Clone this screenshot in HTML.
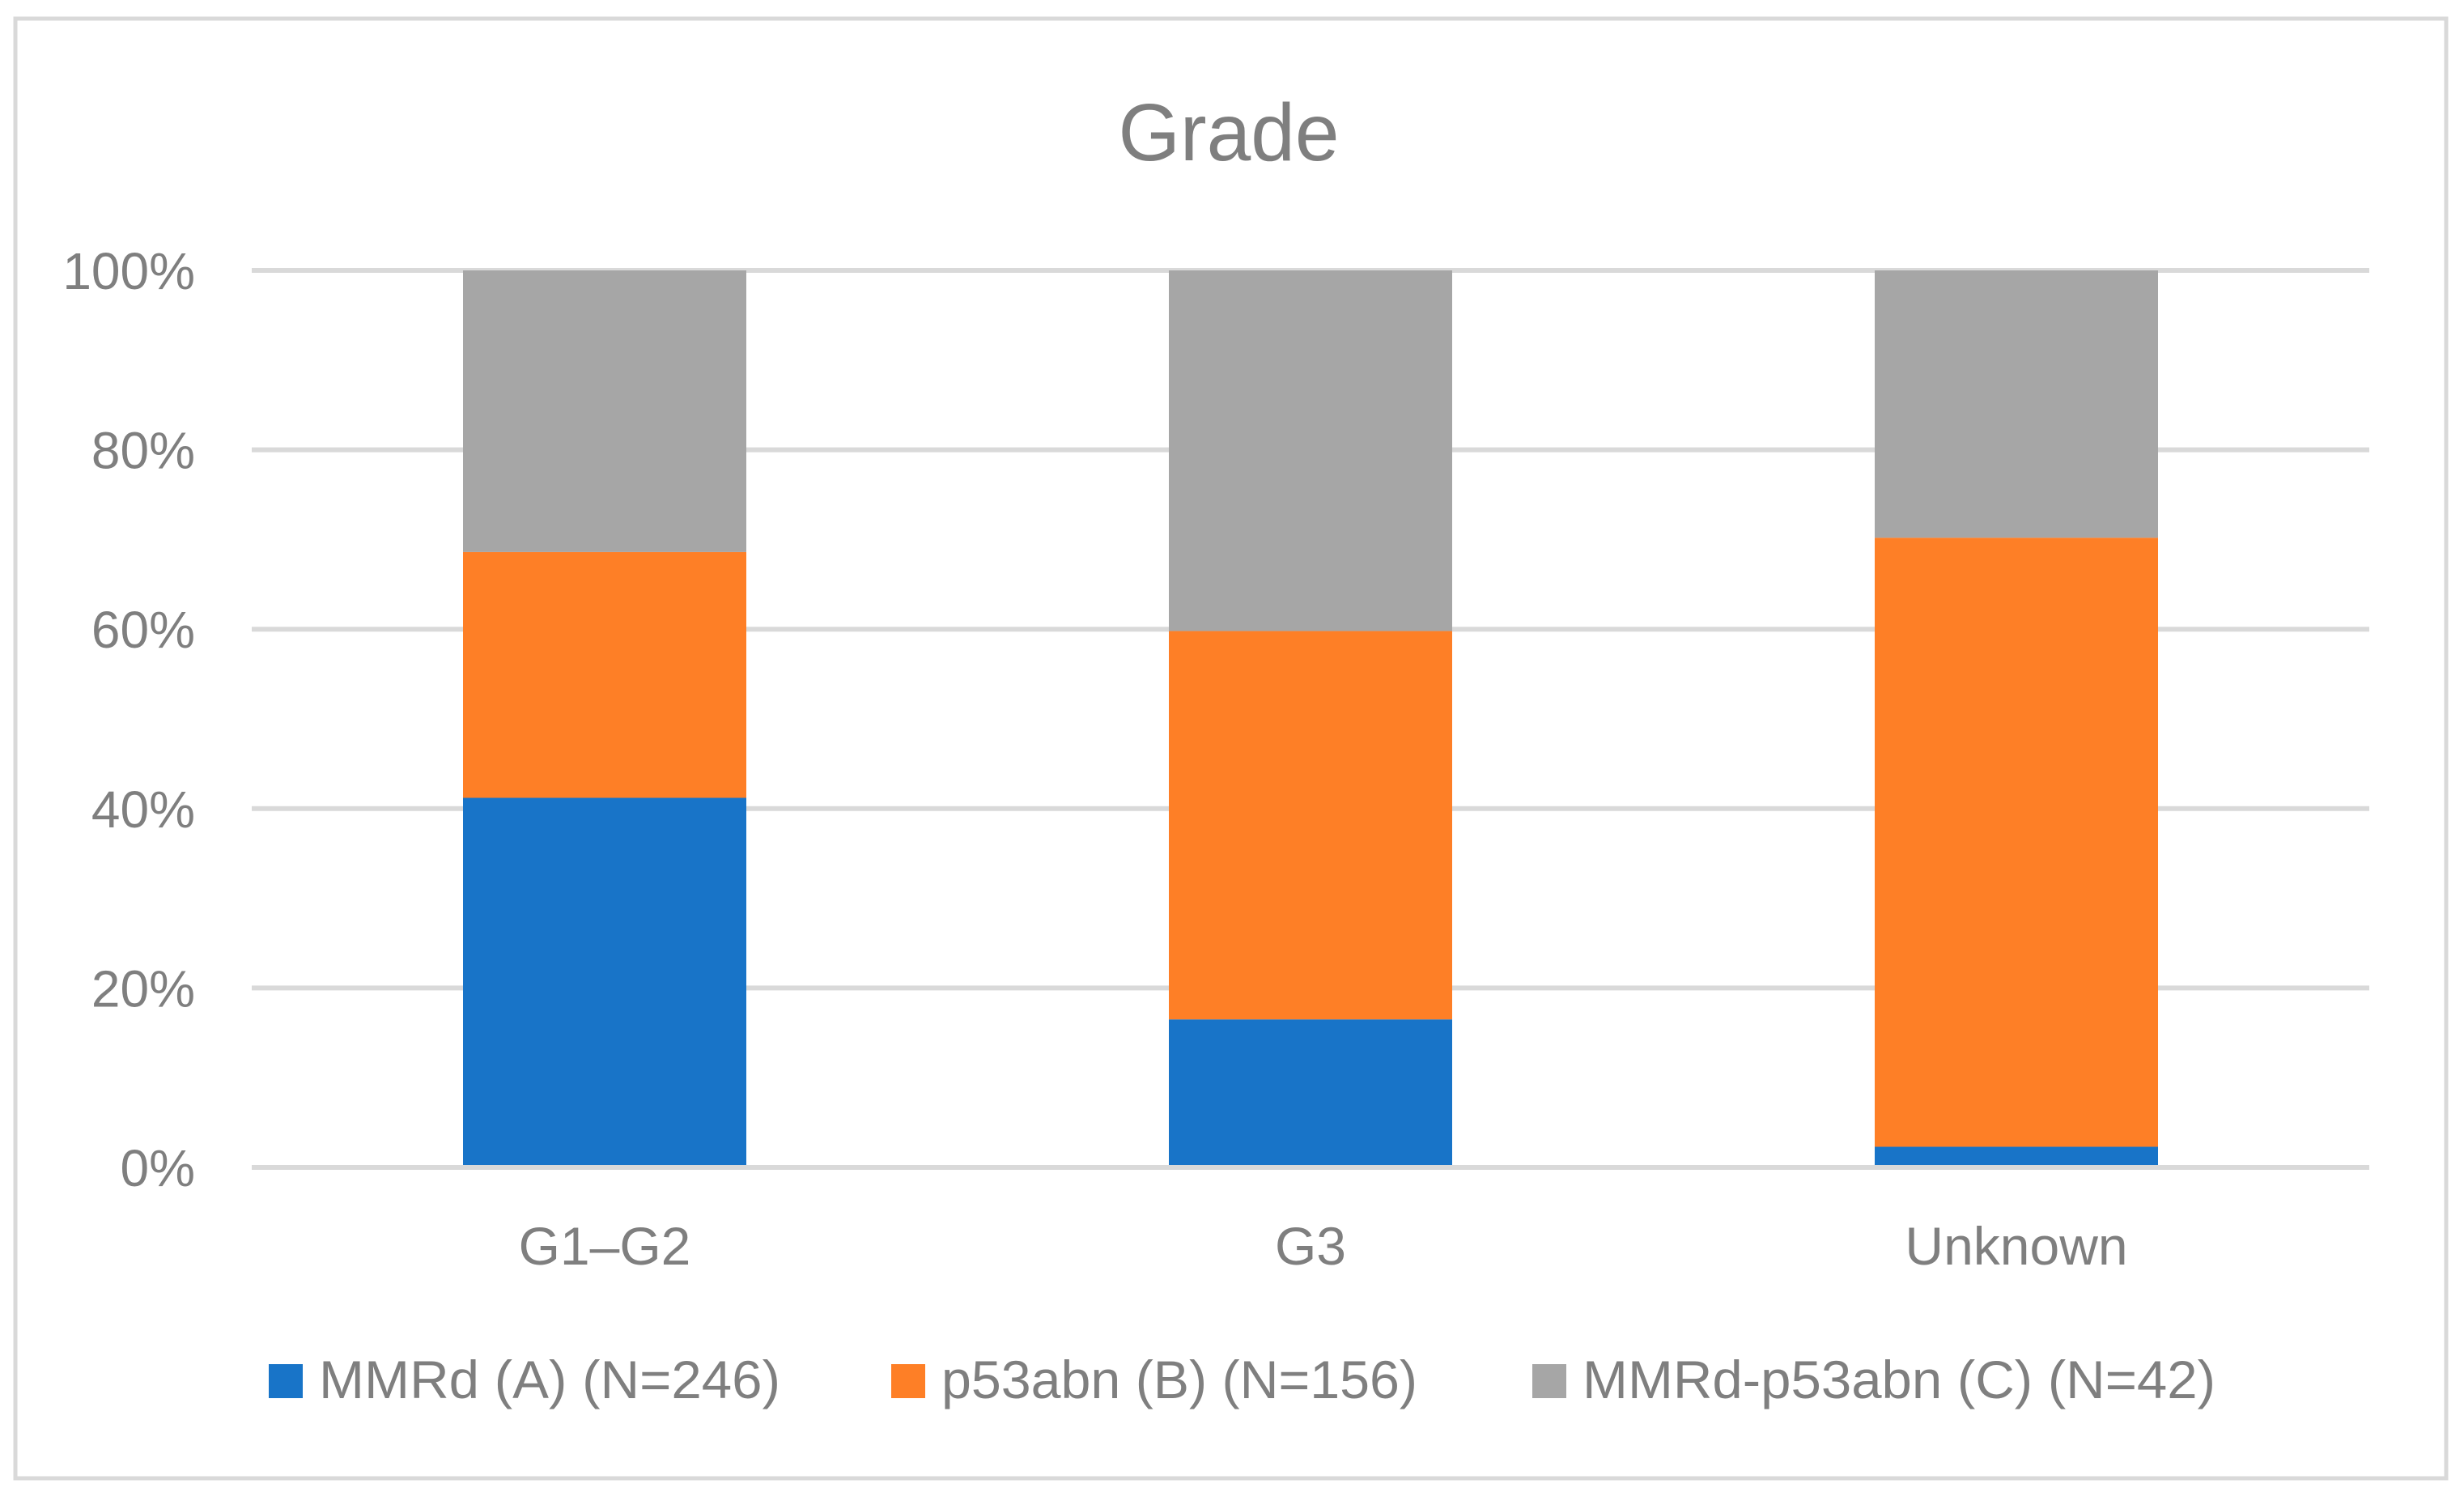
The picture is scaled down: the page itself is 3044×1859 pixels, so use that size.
<!DOCTYPE html>
<html><head><meta charset="utf-8"><style>
html,body{margin:0;padding:0;background:#fff;}
svg{display:block;}
text{font-family:"Liberation Sans",sans-serif;fill:#7f7f7f;}
</style></head><body>
<svg id="chart" width="3044" height="1859" viewBox="0 0 3044 1859" xmlns="http://www.w3.org/2000/svg">
<rect x="19" y="23" width="3003" height="1803" fill="#fff" stroke="#d9d9d9" stroke-width="5"/>
<text x="1518" y="198" font-size="100" text-anchor="middle" textLength="273" lengthAdjust="spacingAndGlyphs">Grade</text>
<g id="grid"></g>
<g id="bars"></g>
<g id="labels"></g>
<g id="legend"></g>
</svg>
<script>
const categories = ["G1\u2013G2", "G3", "Unknown"];
const mmrd = [41.2, 16.5, 2.3];
const p53abn = [27.4, 43.3, 67.9];
const mmrdP53 = [31.4, 40.2, 29.8];
const tickValues = [0, 20, 40, 60, 80, 100];
const tickLabels = ["0%", "20%", "40%", "60%", "80%", "100%"];
const seriesNames = ["MMRd (A) (N=246)", "p53abn (B) (N=156)", "MMRd-p53abn (C) (N=42)"];
const seriesColors = ["#1874c8", "#fe7f26", "#a6a6a6"];

const NS = "http://www.w3.org/2000/svg";
const plotL = 311, plotR = 2927, y0 = 1442, y100 = 334;
const catW = (plotR - plotL) / categories.length;
const barW = 350;
function yScale(v){ return y0 - (v / 100) * (y0 - y100); }
function xCenter(i){ return plotL + catW * (i + 0.5); }
function mk(tag, attrs, parent){
  const e = document.createElementNS(NS, tag);
  for (const k in attrs) e.setAttribute(k, attrs[k]);
  parent.appendChild(e);
  return e;
}
const grid = document.getElementById('grid');
const bars = document.getElementById('bars');
const labels = document.getElementById('labels');
const legend = document.getElementById('legend');

tickValues.forEach((v, i) => {
  const l = mk('line', {x1: plotL, x2: plotR, y1: yScale(v), y2: yScale(v), stroke: '#d9d9d9', 'stroke-width': 6}, grid);
  
  
  const t = mk('text', {x: 241, y: yScale(v) + 23, 'font-size': 64, 'text-anchor': 'end'}, labels);
  t.textContent = tickLabels[i];
  
  
});

const series = [mmrd, p53abn, mmrdP53];
categories.forEach((c, i) => {
  let cum = 0;
  series.forEach((s, k) => {
    const top = yScale(cum + s[i]);
    const bot = k === 0 ? y0 - 3 : yScale(cum);
    const r = mk('rect', {x: xCenter(i) - barW / 2, y: top, width: barW, height: Math.max(0, bot - top), fill: seriesColors[k]}, bars);
    
    
    cum += s[i];
  });
  const t = mk('text', {x: xCenter(i), y: 1562, 'font-size': 66, 'text-anchor': 'middle'}, labels);
  t.textContent = c;
  
  
});

const legSwatchX = [332, 1101, 1893];
const legTextW = [570, 588, 782];
seriesNames.forEach((n, k) => {
  const r = mk('rect', {x: legSwatchX[k], y: 1685, width: 42, height: 42, fill: seriesColors[k]}, legend);
  
  
  const t = mk('text', {x: legSwatchX[k] + 62, y: 1727, 'font-size': 66, textLength: legTextW[k], lengthAdjust: 'spacingAndGlyphs'}, legend);
  t.textContent = n;
  
  
});
</script>
</body></html>
